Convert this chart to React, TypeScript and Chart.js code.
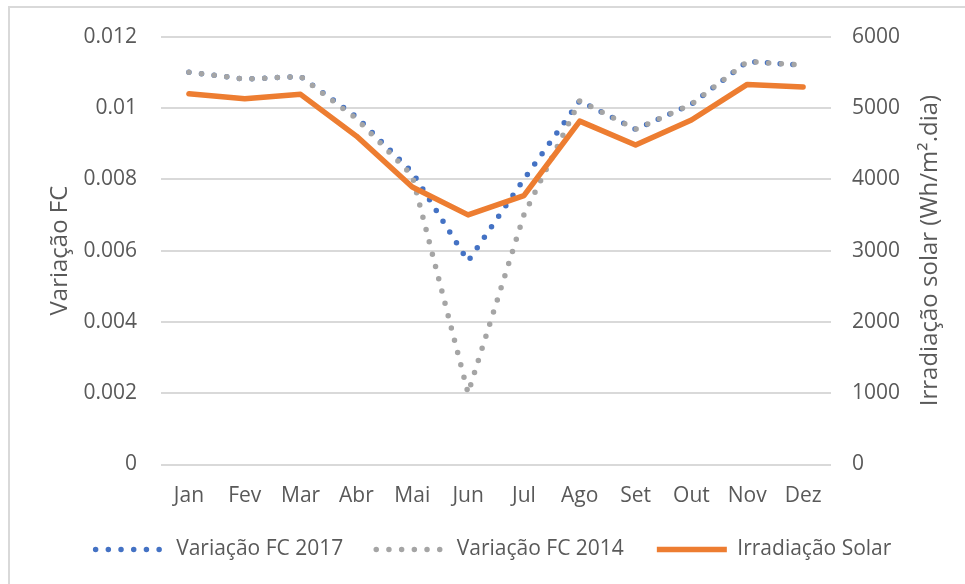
import React, { useEffect, useRef } from "react";
import { Chart, registerables } from "chart.js";

Chart.register(...registerables);

const months = ["Jan", "Fev", "Mar", "Abr", "Mai", "Jun", "Jul", "Ago", "Set", "Out", "Nov", "Dez"];
const fc2017 = [0.011, 0.01081, 0.01088, 0.00975, 0.0082, 0.0057, 0.008, 0.0102, 0.0094, 0.0101, 0.0113, 0.0112];
const fc2014 = [0.011, 0.01081, 0.01088, 0.0097, 0.0081, 0.002, 0.007, 0.0102, 0.0094, 0.0101, 0.0113, 0.0112];
const irradiacao = [5200, 5130, 5190, 4605, 3890, 3500, 3770, 4815, 4480, 4830, 5330, 5295];
const seriesNames = ["Variação FC 2017", "Variação FC 2014", "Irradiação Solar"];
const leftTitle = "Variação FC";
const rightTitle = "Irradiação solar (Wh/m².dia)";

const FONT = "'Open Sans', sans-serif";
const TEXT = "#595959";

const titlesPlugin = {
  id: "axisTitles",
  afterUpdate(chart: any) {
    const l = chart.legend;
    if (l) {
      l.top -= 8.5;
      l.bottom -= 8.5;
    }
  },
  afterDraw(chart: any) {
    const { ctx, chartArea } = chart;
    const cy = (chartArea.top + chartArea.bottom) / 2;
    ctx.save();
    ctx.fillStyle = TEXT;
    ctx.font = `24px ${FONT}`;
    ctx.textAlign = "center";
    ctx.textBaseline = "middle";
    const draw = (text: string, x: number) => {
      ctx.save();
      ctx.translate(x, cy);
      ctx.rotate(-Math.PI / 2);
      ctx.fillText(text, 0, 0);
      ctx.restore();
    };
    draw(leftTitle, chartArea.left - 101);
    draw(rightTitle, chartArea.right + 99);
    ctx.restore();
  },
};

export default function App() {
  const ref = useRef<HTMLCanvasElement>(null);
  useEffect(() => {
    if (!ref.current) return;
    const chart = new Chart(ref.current, {
      type: "line",
      data: {
        labels: months,
        datasets: [
          {
            label: seriesNames[0],
            data: fc2017,
            yAxisID: "y",
            borderColor: "#4472C4",
            backgroundColor: "#4472C4",
            borderWidth: 5.5,
            borderDash: [0, 12.7],
            borderCapStyle: "round",
            pointRadius: 0,
            order: 3,
          },
          {
            label: seriesNames[1],
            data: fc2014,
            yAxisID: "y",
            borderColor: "#A5A5A5",
            backgroundColor: "#A5A5A5",
            borderWidth: 5.5,
            borderDash: [0, 12.7],
            borderCapStyle: "round",
            pointRadius: 0,
            order: 2,
          },
          {
            label: seriesNames[2],
            data: irradiacao,
            yAxisID: "y1",
            borderColor: "#ED7D31",
            backgroundColor: "#ED7D31",
            borderWidth: 5.5,
            borderCapStyle: "round",
            borderJoinStyle: "round",
            pointRadius: 0,
            order: 1,
          },
        ],
      },
      options: {
        responsive: false,
        animation: false,
        layout: { padding: { left: 22, right: 0, top: 35, bottom: 5.5 } },
        plugins: {
          tooltip: { enabled: false },
          legend: {
            position: "bottom",
            labels: {
              usePointStyle: true,
              pointStyle: "line",
              pointStyleWidth: 70,
              padding: 33,
              color: TEXT,
              font: { family: FONT, size: 21 },
              sort: (a: any, b: any) => a.datasetIndex - b.datasetIndex,
              generateLabels: (c: any) => {
                const items = (Chart.defaults as any).plugins.legend.labels.generateLabels(c);
                return items.map((it: any) => {
                  const ds = c.data.datasets[it.datasetIndex];
                  return {
                    ...it,
                    lineDash: ds.borderDash || [],
                    lineCap: ds.borderDash ? "round" : "butt",
                    lineWidth: ds.borderWidth,
                    strokeStyle: ds.borderColor,
                  };
                });
              },
            },
          },
        },
        scales: {
          x: {
            offset: true,
            afterFit: (s: any) => { s.height = 50; },
            grid: { display: false, drawTicks: false },
            border: { display: false },
            ticks: { color: TEXT, font: { family: FONT, size: 21 }, padding: 19, maxRotation: 0 },
          },
          y: {
            position: "left",
            min: 0,
            max: 0.012,
            afterFit: (s: any) => { s.width = 139; },
            grid: { color: "#d9d9d9", lineWidth: 2, drawTicks: false },
            border: { display: false },
            ticks: {
              stepSize: 0.002,
              color: TEXT,
              padding: 24,
              font: { family: FONT, size: 21 },
              callback: (v: any) => String(Number(Number(v).toFixed(3))),
            },
          },
          y1: {
            position: "right",
            min: 0,
            max: 6000,
            afterFit: (s: any) => { s.width = 134; },
            grid: { display: false, drawTicks: false },
            border: { display: false },
            ticks: {
              stepSize: 1000,
              color: TEXT,
              padding: 21,
              font: { family: FONT, size: 21 },
              callback: (v: any) => String(v),
            },
          },
        },
      },
      plugins: [titlesPlugin],
    } as any);
    return () => chart.destroy();
  }, []);
  return (
    <div style={{ position: "fixed", left: 0, top: 0, width: 965, height: 584, overflow: "hidden", background: "#fff" }}>
      <div style={{ position: "absolute", left: 8, top: 6, width: 1200, height: 1200, border: "2px solid #d9d9d9" }} />
      <canvas ref={ref} width={965} height={584} style={{ position: "absolute", left: 0, top: 0, width: 965, height: 584 }} />
    </div>
  );
}
